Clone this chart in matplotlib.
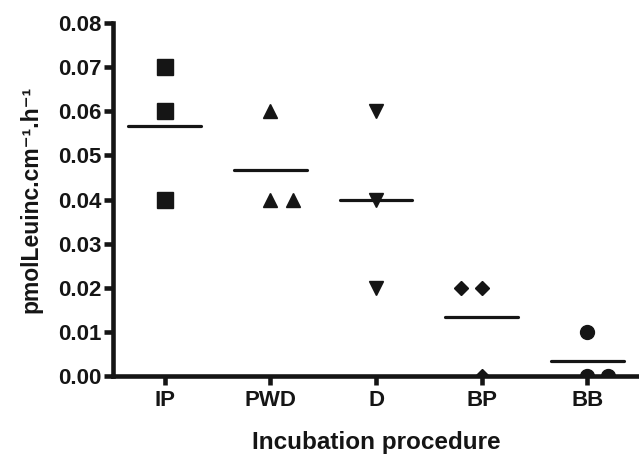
import numpy as np
import matplotlib
matplotlib.use("Agg")
import matplotlib.pyplot as plt

plt.rcParams.update(
    {
        "font.family": ["Liberation Sans", "DejaVu Sans"],
        "font.weight": "bold",
        "font.size": 16,
        "axes.linewidth": 3.3,
    }
)

categories = ["IP", "PWD", "D", "BP", "BB"]
values = [
    [0.07, 0.06, 0.04],
    [0.06, 0.04, 0.04],
    [0.06, 0.04, 0.02],
    [0.02, 0.02, 0.0],
    [0.01, 0.0, 0.0],
]
markers = ["s", "^", "v", "D", "o"]
marker_sizes = [11, 10, 10, 7.5, 10]
# horizontal nudge for repeated values (in category units)
nudges = [
    [0, 0, 0],
    [0, 0, 0.21],
    [0, 0, 0],
    [-0.2, 0, 0],
    [0, 0, 0.2],
]
ink = "#151515"

fig = plt.figure(figsize=(6.39, 4.55), dpi=100)
ax = fig.add_axes([0.177, 0.174, 0.823, 0.775])

for i, vals in enumerate(values):
    xs = [i + d for d in nudges[i]]
    ax.plot(xs, vals, linestyle="none", marker=markers[i], ms=marker_sizes[i],
            color=ink, mec=ink, clip_on=True, zorder=3)
    m = np.mean(vals)
    ax.plot([i - 0.345, i + 0.345], [m, m], color=ink, lw=2.3,
            solid_capstyle="round", zorder=2)

ax.set_xlim(-0.49, 4.49)
ax.set_ylim(0, 0.08)
yt = np.arange(0, 0.081, 0.01)
ax.set_yticks(yt)
ax.set_yticklabels([f"{t:.2f}" for t in yt])
ax.set_xticks(range(len(categories)))
ax.set_xticklabels(categories)
ax.tick_params(direction="out", length=6.5, width=3.3, color=ink, labelcolor=ink)
ax.tick_params(axis="y", pad=2)
ax.tick_params(axis="x", pad=4)
ax.spines[["right", "top"]].set_visible(False)
for s in ["left", "bottom"]:
    ax.spines[s].set_color(ink)
    ax.spines[s].set_zorder(4)

ax.set_ylabel("pmolLeuinc.cm\u207b\u00b9.h\u207b\u00b9", fontsize=16.5,
              fontweight="bold", labelpad=11, color=ink)
ax.set_xlabel("Incubation procedure", fontsize=17.5, fontweight="bold",
              labelpad=14, color=ink)

fig.savefig("out.png", dpi=100)
